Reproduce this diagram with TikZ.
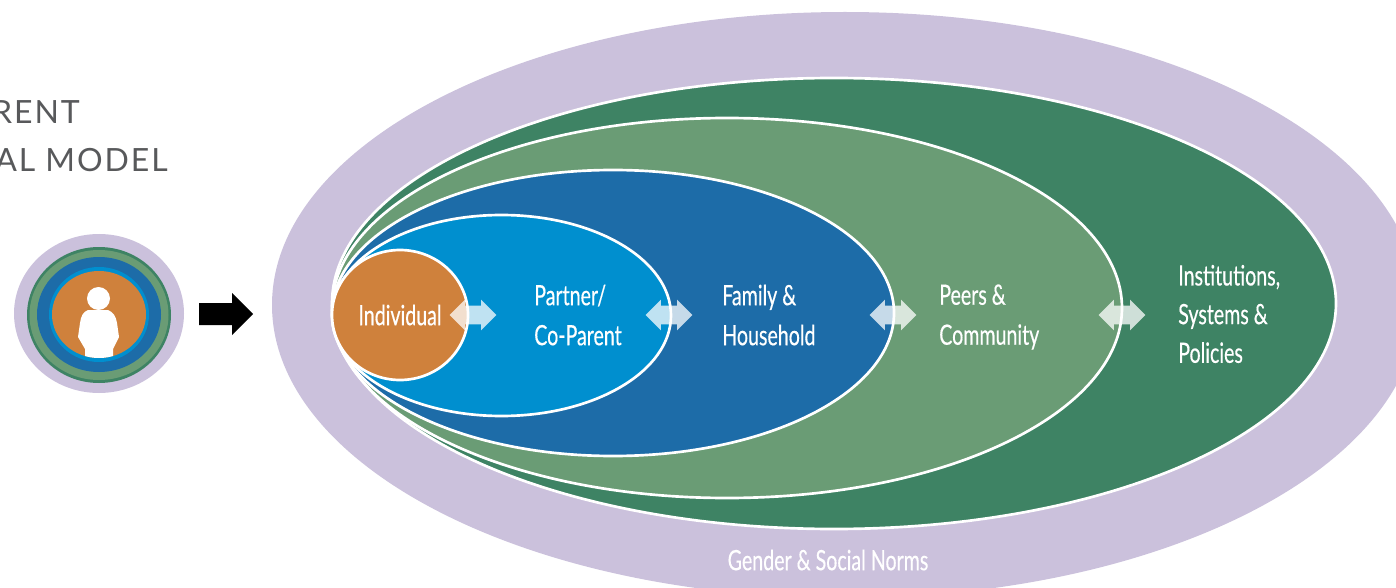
\documentclass[tikz,border=0pt]{standalone}
\usepackage{xcolor}
\usepackage{fontspec}
\usetikzlibrary{shapes.arrows}
\newfontfamily\labelfont[FakeStretch=0.70,FakeBold=0.4]{Lato}
\newfontfamily\headfont[LetterSpace=6]{Lato}
\definecolor{normsC}{HTML}{CBC1DC}
\definecolor{policyC}{HTML}{3E8364}
\definecolor{peersC}{HTML}{6A9C75}
\definecolor{familyC}{HTML}{1D6CA8}
\definecolor{partnerC}{HTML}{008FCF}
\definecolor{selfC}{HTML}{CF813C}
\definecolor{headC}{HTML}{58595B}
\tikzset{
  ring/.style={draw=white,line width=2pt},
  ringlabel/.style={text=white,align=left,inner sep=0pt,font=\labelfont\fontsize{21}{30}\selectfont},
  headlabel/.style={text=headC,anchor=base east,inner sep=0pt,font=\headfont\fontsize{24}{30}\selectfont},
  linkarrow/.style={shape=double arrow,fill=white,fill opacity=.75,inner sep=0pt,minimum height=35pt,double arrow head extend=4.5pt}
}
\begin{document}
\begin{tikzpicture}[x=0.75pt,y=0.75pt,yscale=-1]
\useasboundingbox (0,0) rectangle (1396,588);
\clip (0,0) rectangle (1396,588);

%Small rings
\fill [normsC] (99,313.5) ellipse (85 and 79.5);
\fill [policyC] (99,315) ellipse (72 and 68);
\fill [peersC] (99,315) ellipse (69.5 and 65);
\fill [familyC] (99,314.5) ellipse (62 and 57.5);
\fill [partnerC] (99,314.5) ellipse (50 and 47.5);
\fill [selfC] (99,314.5) ellipse (47 and 43.5);

%Person
\begin{scope}
\clip (99,314.5) ellipse (47 and 43.5);
\fill [white] (98.5,298.5) ellipse (11.5 and 11.5);
\fill [white] (88,310) .. controls (83,312) and (81,316) .. (80,323) -- (78,337) -- (85,349) -- (85,360) -- (113,360) -- (113,349) -- (119,337) -- (117,323) .. controls (116,316) and (113,312) .. (108,310) -- cycle;
\end{scope}

%Block arrow
\fill [black] (199,303) -- (232,303) -- (232,293) -- (253,314) -- (232,335) -- (232,325) -- (199,325) -- cycle;

%Large rings
\fill [normsC] (845,305) ellipse (573 and 293);
\draw [ring,fill=policyC] (834,303.5) ellipse (502 and 225.5);
\draw [ring,fill=peersC] (727,308) ellipse (395 and 190);
\draw [ring,fill=familyC] (613,313) ellipse (281 and 143);
\draw [ring,fill=partnerC] (501.5,315.5) ellipse (169.5 and 100.5);
\draw [ring,fill=selfC] (400,315) ellipse (68 and 65);

%Double arrows
\node [linkarrow] (linkA) at (473,315) {\rule{0pt}{13.5pt}};
\node [linkarrow] (linkB) at (669,315) {\rule{0pt}{13.5pt}};
\node [linkarrow] (linkC) at (893,315) {\rule{0pt}{13.5pt}};
\node [linkarrow] (linkD) at (1122,315) {\rule{0pt}{13.5pt}};

% Text Node
\node [headlabel] (headA) at (80,124) {RENT};
\node [headlabel] (headB) at (168,172) {AL MODEL};
\node [ringlabel] (individual) at (400,315) {Individual};
\node [ringlabel,anchor=west] (partner) at (534,315) {Partner/\\Co-Parent};
\node [ringlabel,anchor=west] (family) at (722,315) {Family \&\\Household};
\node [ringlabel,anchor=west] (peers) at (939,317) {Peers \&\\Community};
\node [ringlabel,anchor=west] (policy) at (1178,314) {Institutions,\\[-1pt]Systems \&\\[-1pt]Policies};
\node [ringlabel] (norms) at (828,560) {Gender \& Social Norms};
\end{tikzpicture}
\end{document}
